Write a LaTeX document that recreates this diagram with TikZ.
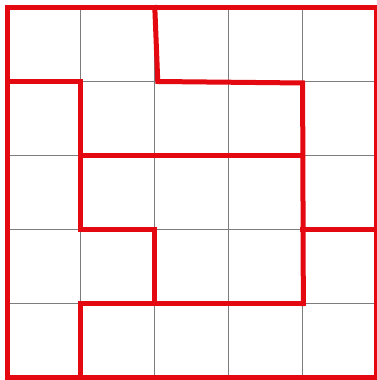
\documentclass[tikz,border=0pt]{standalone}
\definecolor{wallred}{RGB}{228,8,16}
\definecolor{gridgray}{RGB}{125,125,125}
\tikzset{
  gridline/.style={draw=gridgray, line width=0.9pt},
  wall/.style={draw=wallred, line width=5pt, line cap=rect, line join=miter},
}
\begin{document}
\begin{tikzpicture}
\useasboundingbox (0pt,0pt) rectangle (377pt,-380pt);
\fill[white] (0pt,0pt) rectangle (377pt,-380pt);
\begin{scope}[shift={(7pt,-7.5pt)}, x=73.9pt, y=-74pt]
  \foreach \i in {1,...,4} {
    \draw[gridline] (\i,0) -- (\i,5);
    \draw[gridline] (0,\i) -- (5,\i);
  }
  \draw[wall] (0,0) rectangle (5,5);
  \draw[wall] (2,0) -- (2.04,1) -- (4,1.02) -- (4.01,4);
  \draw[wall] (0,1) -- (1,1) -- (1,3) -- (2,3) -- (2,4);
  \draw[wall] (1,5) -- (1,4) -- (4.01,4);
  \draw[wall] (1,2) -- (4,2);
  \draw[wall] (4,3) -- (5,3);
\end{scope}
\end{tikzpicture}
\end{document}
